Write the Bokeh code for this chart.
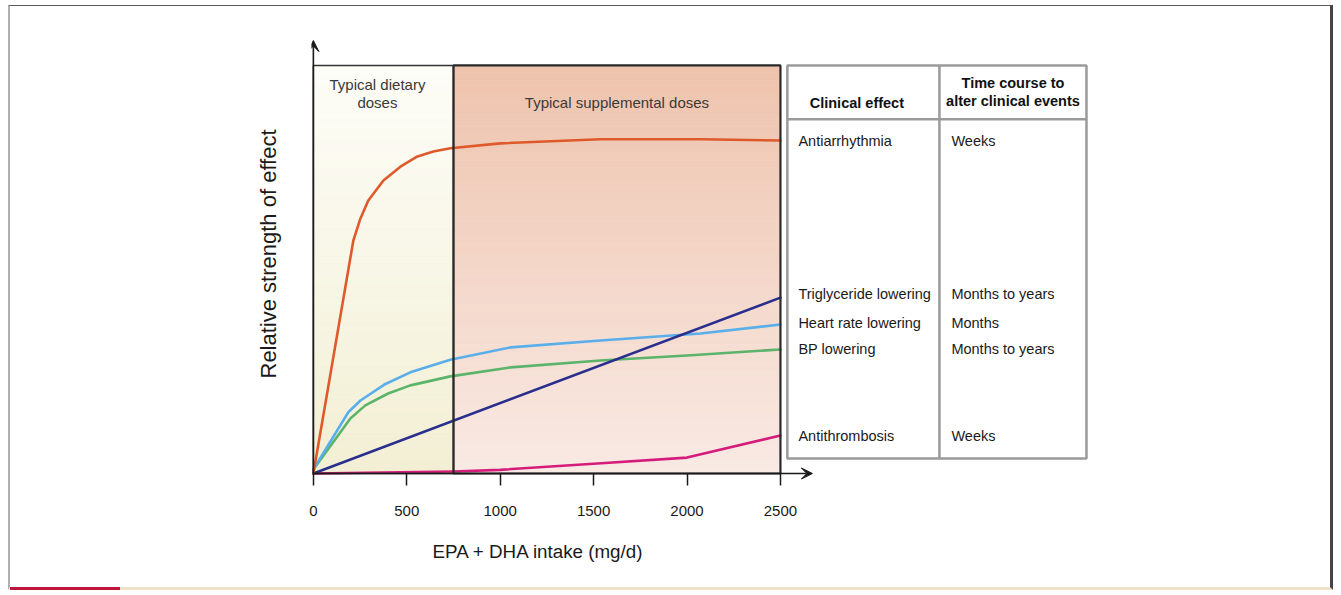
import numpy as np
from bokeh.plotting import figure
from bokeh.models import Range1d, FixedTicker, Arrow, VeeHead, Title
from bokeh.core.properties import value
from bokeh.embed import file_html
from bokeh.resources import INLINE

# ---------------- data ----------------
x_ticks = [0, 500, 1000, 1500, 2000, 2500]
dietary_range = [0, 750]
supplemental_range = [750, 2500]

antiarrhythmia_x = [0, 214, 252, 294, 375, 466, 557, 642, 733, 1001, 1536, 2072, 2500]
antiarrhythmia_y = [0, 57.1, 62.5, 66.9, 71.8, 75.2, 77.7, 78.9, 79.7, 80.9, 81.9, 81.9, 81.6]
triglyceride_x = [0, 2500]
triglyceride_y = [0, 43.1]
heart_rate_x = [0, 187, 252, 380, 519, 733, 1055, 1536, 2072, 2500]
heart_rate_y = [1.0, 15.0, 17.9, 21.8, 24.8, 27.9, 30.9, 32.6, 34.3, 36.5]
bp_x = [0, 198, 278, 400, 519, 733, 1055, 1536, 2000, 2500]
bp_y = [1.0, 13.5, 16.7, 19.6, 21.6, 23.8, 26.0, 27.7, 28.9, 30.4]
thrombosis_x = [0, 750, 1000, 1500, 2000, 2500]
thrombosis_y = [0, 0.5, 0.9, 2.4, 3.9, 9.3]

effects = ["Antiarrhythmia", "Triglyceride lowering", "Heart rate lowering",
           "BP lowering", "Antithrombosis"]
time_courses = ["Weeks", "Months to years", "Months", "Months to years", "Weeks"]
header_effect = "Clinical effect"
header_time = ["Time course to", "alter clinical events"]
zone_labels_dietary = ["Typical dietary", "doses"]
zone_label_supp = "Typical supplemental doses"
x_title = "EPA + DHA intake (mg/d)"
y_title = "Relative strength of effect"

# ---------------- styles / layout constants ----------------
FONT = value("Liberation Sans")
C_ORANGE = "#df5a2b"
C_NAVY = "#2a2f8e"
C_BLUE = "#5aaeea"
C_GREEN = "#5bb46a"
C_MAGENTA = "#d61c7b"
TOP = 100.0          # top of the dose boxes (relative scale)
Y_ARROW = 106.1
X_ARROW = 2671
DIET_LABEL_X = 343
TBL_X0, TBL_X1, TBL_X2 = 2537, 3351, 4138
TBL_Y0, TBL_YH = 3.7, 86.8
COL1_TX, COL2_TX = 2596, 3415

p = figure(width=1325, height=585,
           x_range=Range1d(-10, 4213), y_range=Range1d(-2.94, 106.6),
           output_backend="svg", toolbar_location=None,
           min_border_left=301, min_border_right=235,
           min_border_top=32, min_border_bottom=106)
p.styles = {"margin-left": "8px", "margin-top": "5px",
            "border-top": "1px solid #5a5a5a", "border-left": "2px solid #b0b0b0",
            "border-right": "3px solid #444444", "border-bottom": "3px solid transparent",
            "background": ("linear-gradient(#c0143c, #c0143c) left bottom / 112px 3px no-repeat, "
                           "linear-gradient(#ede2cc, #ede2cc) left bottom / 100% 3px no-repeat, white"),
            "background-origin": "border-box"}
p.title.visible = False
p.outline_line_color = None
p.grid.visible = False
p.background_fill_color = "white"
p.border_fill_color = "white"

# ---------- gradient-filled dose zones ----------
def hex2rgb(h):
    h = h.lstrip("#")
    return np.array([int(h[i:i + 2], 16) for i in (0, 2, 4)], dtype=float)

def bands(x0, x1, c_top, c_bot, n=60):
    ct, cb = hex2rgb(c_top), hex2rgb(c_bot)
    edges = np.linspace(0, TOP, n + 1)
    cols = []
    for i in range(n):
        t = (edges[i] + edges[i + 1]) / 2 / TOP
        c = cb + (ct - cb) * t
        cols.append("#%02x%02x%02x" % tuple(int(round(v)) for v in c))
    p.quad(left=[x0] * n, right=[x1] * n, bottom=edges[:-1], top=edges[1:],
           fill_color=cols, line_color=cols, line_width=0.6)

bands(dietary_range[0], dietary_range[1], "#fdfdf8", "#f3efd4")
bands(supplemental_range[0], supplemental_range[1], "#eec3ad", "#f9eae4")

# ---------- curves ----------
for xs, ys, c in [(thrombosis_x, thrombosis_y, C_MAGENTA),
                  (bp_x, bp_y, C_GREEN),
                  (heart_rate_x, heart_rate_y, C_BLUE),
                  (triglyceride_x, triglyceride_y, C_NAVY),
                  (antiarrhythmia_x, antiarrhythmia_y, C_ORANGE)]:
    p.line(xs, ys, line_color=c, line_width=2.6, line_join="round", line_cap="round")

# ---------- zone outlines ----------
p.quad(left=[dietary_range[0]], right=[dietary_range[1]], bottom=[0], top=[TOP],
       fill_color=None, line_color="#333333", line_width=1.5)
p.quad(left=[supplemental_range[0]], right=[supplemental_range[1]], bottom=[0], top=[TOP],
       fill_color=None, line_color="#2a2a2a", line_width=2.2)

p.text(x=[DIET_LABEL_X] * 2, y=[95.3, 90.9], text=zone_labels_dietary,
       text_font=FONT, text_font_size="15px", text_color="#3a3a3a",
       text_align="center", text_baseline="middle")
p.text(x=[sum(supplemental_range) / 2], y=[90.9], text=[zone_label_supp],
       text_font=FONT, text_font_size="15px", text_color="#3a3a3a",
       text_align="center", text_baseline="middle")

# ---------- table ----------
p.quad(left=[TBL_X0], right=[TBL_X2], bottom=[TBL_Y0], top=[TOP],
       fill_color="white", line_color="#9a9a9a", line_width=2.5)
p.segment(x0=[TBL_X1, TBL_X0], y0=[TBL_Y0, TBL_YH], x1=[TBL_X1, TBL_X2], y1=[TOP, TBL_YH],
          line_color="#9a9a9a", line_width=2.5)
p.text(x=[(TBL_X0 + TBL_X1) / 2 - 35], y=[90.9], text=[header_effect],
       text_font=FONT, text_font_size="14.5px", text_font_style="bold",
       text_color="#111111", text_align="center", text_baseline="middle")
p.text(x=[(TBL_X1 + TBL_X2) / 2] * 2, y=[95.8, 91.4], text=header_time,
       text_font=FONT, text_font_size="14.5px", text_font_style="bold",
       text_color="#111111", text_align="center", text_baseline="middle")

row_y = [antiarrhythmia_y[-1], triglyceride_y[-1] + 0.8, heart_rate_y[-1] + 0.4, bp_y[-1],
         thrombosis_y[-1]]
p.text(x=[COL1_TX] * len(effects), y=row_y, text=effects,
       text_font=FONT, text_font_size="14.5px", text_color="#1a1a1a",
       text_align="left", text_baseline="middle")
p.text(x=[COL2_TX] * len(time_courses), y=row_y, text=time_courses,
       text_font=FONT, text_font_size="14.5px", text_color="#1a1a1a",
       text_align="left", text_baseline="middle")

# ---------- axis lines with arrow heads ----------
p.add_layout(Arrow(x_start=0, y_start=0, x_end=0, y_end=Y_ARROW,
                   line_color="#1a1a1a", line_width=1.6,
                   end=VeeHead(size=11, fill_color="#1a1a1a", line_color="#1a1a1a")))
p.add_layout(Arrow(x_start=0, y_start=0, x_end=X_ARROW, y_end=0,
                   line_color="#1a1a1a", line_width=1.6,
                   end=VeeHead(size=11, fill_color="#1a1a1a", line_color="#1a1a1a")))

# ---------- axes ----------
xa = p.xaxis[0]
xa.ticker = FixedTicker(ticks=x_ticks)
xa.axis_line_color = None
xa.major_tick_in = 12
xa.major_tick_out = 0
xa.major_tick_line_color = "#1a1a1a"
xa.major_tick_line_width = 1.5
xa.minor_tick_line_color = None
xa.major_label_standoff = 20
xa.major_label_text_font = "Liberation Sans"
xa.major_label_text_font_size = "15px"
xa.major_label_text_color = "#1a1a1a"

p.yaxis.visible = False
p.add_layout(Title(text=y_title, align="left", offset=107,
                   text_font="Liberation Sans", text_font_size="22px",
                   text_font_style="normal", text_color="#1a1a1a", standoff=61), "left")

p.add_layout(Title(text=x_title, align="left", offset=121,
                   text_font="Liberation Sans", text_font_size="18.8px",
                   text_font_style="normal", text_color="#1a1a1a", standoff=40), "below")

open("out.html", "w").write(file_html(p, INLINE))
